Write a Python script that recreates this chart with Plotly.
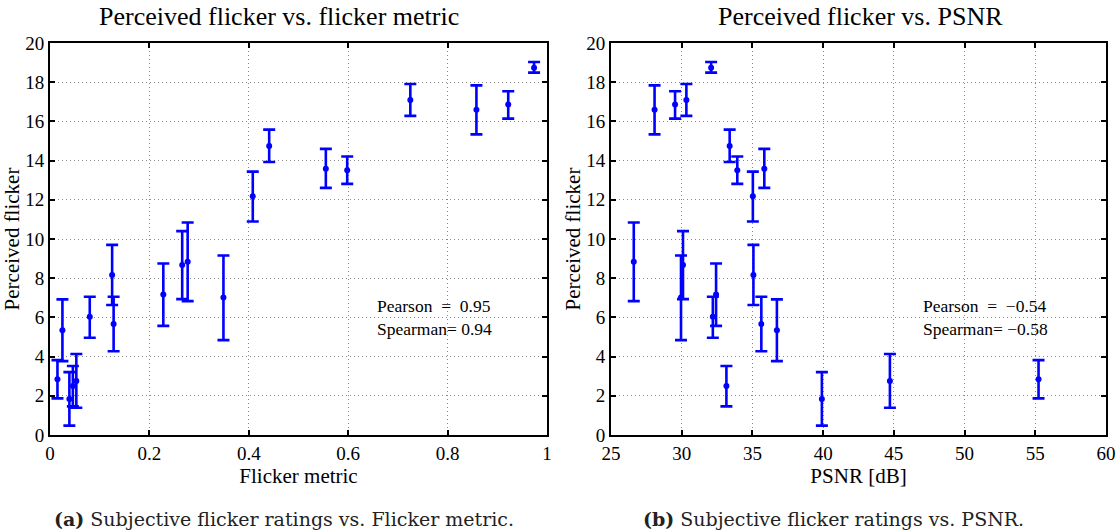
import plotly.graph_objects as go
from plotly.subplots import make_subplots

# Data
flicker_metric = [0.015, 0.025, 0.039, 0.046, 0.053, 0.080, 0.125, 0.128, 0.228, 0.266,
                  0.277, 0.349, 0.408, 0.441, 0.555, 0.598, 0.725, 0.858, 0.922, 0.974]
psnr = [55.23, 36.73, 39.91, 33.16, 44.72, 32.20, 35.07, 35.63, 32.43, 30.09,
        26.61, 29.95, 35.03, 33.39, 35.84, 33.93, 30.33, 28.08, 29.53, 32.08]
perceived = [2.85, 5.35, 1.84, 2.50, 2.75, 6.03, 8.16, 5.66, 7.17, 8.67,
             8.84, 7.02, 12.18, 14.75, 13.59, 13.51, 17.09, 16.60, 16.86, 18.74]
err_upper = [3.82, 6.92, 3.21, 3.52, 4.13, 7.05, 9.70, 7.05, 8.75, 10.40,
             10.84, 9.16, 13.44, 15.58, 14.60, 14.21, 17.91, 17.84, 17.54, 19.03]
err_lower = [1.87, 3.77, 0.48, 1.46, 1.39, 4.96, 6.63, 4.27, 5.57, 6.93,
             6.83, 4.84, 10.89, 13.93, 12.61, 12.81, 16.28, 15.34, 16.14, 18.49]

y_ticks = [0, 2, 4, 6, 8, 10, 12, 14, 16, 18, 20]
x1_ticks = [0, 0.2, 0.4, 0.6, 0.8, 1]
x1_ticklabels = ["0", "0.2", "0.4", "0.6", "0.8", "1"]
x2_ticks = [25, 30, 35, 40, 45, 50, 55, 60]

titles = ["Perceived flicker vs. flicker metric", "Perceived flicker vs. PSNR"]
x_titles = ["Flicker metric", "PSNR [dB]"]
y_title = "Perceived flicker"
stats_left = "Pearson  =  0.95<br>Spearman= 0.94"
stats_right = "Pearson  =  \u22120.54<br>Spearman= \u22120.58"
captions = ["<b>(a)</b> Subjective flicker ratings vs. Flicker metric.",
            "<b>(b)</b> Subjective flicker ratings vs. PSNR."]

plus = [u - c for u, c in zip(err_upper, perceived)]
minus = [c - l for c, l in zip(perceived, err_lower)]

BLUE = "#0000ff"
FONT = "Liberation Serif, Times New Roman, Times, serif"
CAPFONT = "DejaVu Serif, serif"
W, H = 1120, 532

fig = make_subplots(rows=1, cols=2)

for col, xs in [(1, flicker_metric), (2, psnr)]:
    fig.add_trace(go.Scatter(
        x=xs, y=perceived, mode="markers",
        marker=dict(color=BLUE, size=6),
        error_y=dict(type="data", symmetric=False, array=plus, arrayminus=minus,
                     color=BLUE, thickness=2.6, width=6),
        showlegend=False), row=1, col=col)

xdom1 = [50 / W, 547 / W]
xdom2 = [611 / W, 1106 / W]
ydom = [97 / H, 489 / H]

axis_common = dict(
    showline=True, linecolor="black", linewidth=2, mirror="ticks",
    ticks="inside", ticklen=5, tickwidth=1.5, tickcolor="black",
    showgrid=True, gridcolor="#8a8a8a", gridwidth=1, griddash="1px,3px",
    zeroline=False, tickfont=dict(family=FONT, size=19, color="black"),
    automargin=False,
)

fig.update_layout(
    width=W, height=H,
    margin=dict(l=0, r=0, t=0, b=0, autoexpand=False),
    paper_bgcolor="white", plot_bgcolor="white",
    font=dict(family=FONT, color="black"),
    xaxis=dict(domain=xdom1, range=[0, 1], tickvals=x1_ticks, ticktext=x1_ticklabels,
               title=dict(text=x_titles[0], font=dict(family=FONT, size=21), standoff=0),
               **axis_common),
    xaxis2=dict(domain=xdom2, range=[25, 60], tickvals=x2_ticks,
                title=dict(text=x_titles[1], font=dict(family=FONT, size=21), standoff=0),
                **axis_common),
    yaxis=dict(domain=ydom, range=[0, 20], tickvals=y_ticks,
               title=dict(text=y_title, font=dict(family=FONT, size=21), standoff=0),
               **axis_common),
    yaxis2=dict(domain=ydom, range=[0, 20], tickvals=y_ticks,
                title=dict(text=y_title, font=dict(family=FONT, size=21), standoff=0),
                **axis_common),
)

ann = []
for i, cxp in enumerate([279, 860]):
    ann.append(dict(text=titles[i], x=cxp / W, y=1 - 17 / H, xref="paper", yref="paper",
                    xanchor="center", yanchor="middle", showarrow=False,
                    font=dict(family=FONT, size=26, color="black")))
ann.append(dict(text=captions[0], x=284 / W, y=1 - 519 / H, xref="paper", yref="paper",
                xanchor="center", yanchor="middle", showarrow=False,
                font=dict(family=CAPFONT, size=19, color="#222222")))
ann.append(dict(text=captions[1], x=833 / W, y=1 - 519 / H, xref="paper", yref="paper",
                xanchor="center", yanchor="middle", showarrow=False,
                font=dict(family=CAPFONT, size=19, color="#222222")))
ann.append(dict(text=stats_left, x=0.653, y=7.2, xref="x", yref="y",
                xanchor="left", yanchor="top", showarrow=False, align="left",
                font=dict(family=FONT, size=17.5, color="black")))
ann.append(dict(text=stats_right, x=46.9, y=7.2, xref="x2", yref="y2",
                xanchor="left", yanchor="top", showarrow=False, align="left",
                font=dict(family=FONT, size=17.5, color="black")))
fig.update_layout(annotations=ann)

fig.write_html("out.html", config={"displayModeBar": False},
               post_script="document.body.style.margin='0px';document.body.style.overflow='hidden';")
